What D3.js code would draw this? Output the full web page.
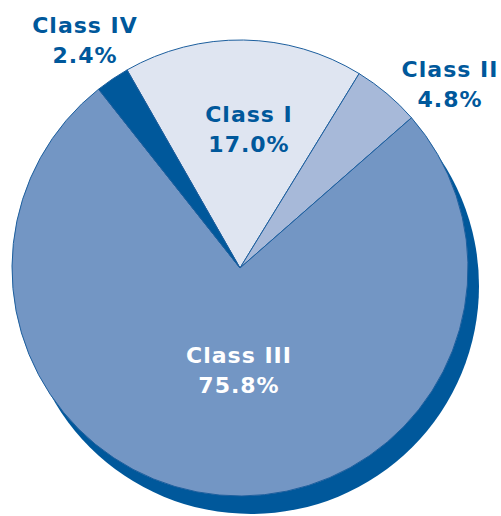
<!DOCTYPE html>
<html>
<head>
<meta charset="utf-8">
<script src="https://cdn.jsdelivr.net/npm/d3@7"></script>
<style>
  body { margin: 0; background: #fff; }
  text { font-family: "Comic Sans MS", "DejaVu Sans", sans-serif; font-weight: bold; }
</style>
</head>
<body>
<script>
const categories = ["Class I", "Class II", "Class III", "Class IV"];
const shares = [17.0, 4.8, 75.8, 2.4];
const colors = ["#dfe5f1", "#a7b9d9", "#7396c4", "#00589b"];
const labelText = ["17.0%", "4.8%", "75.8%", "2.4%"];

const width = 501;
const height = 516;
const cx = 240;
const cy = 268;
const radius = 228;
const dark = "#00589b";

const svg = d3
  .select("body")
  .append("svg")
  .attr("width", width)
  .attr("height", height);

const data = categories.map((c, i) => ({ name: c, value: shares[i], pct: labelText[i], color: colors[i] }));

const start = (-29.7 * Math.PI) / 180;
const pie = d3
  .pie()
  .sort(null)
  .value((d) => d.value)
  .startAngle(start)
  .endAngle(start + 2 * Math.PI);

const arcs = pie(data);
const arc = d3.arc().innerRadius(0).outerRadius(radius);

// shadow disk
svg
  .append("circle")
  .attr("cx", cx + 11)
  .attr("cy", cy + 18)
  .attr("r", radius)
  .attr("fill", dark);

const g = svg.append("g").attr("transform", `translate(${cx},${cy})`);

g.selectAll("path")
  .data(arcs)
  .enter()
  .append("path")
  .attr("d", arc)
  .attr("fill", (d) => d.data.color)
  .attr("stroke", "#1d5f9e")
  .attr("stroke-width", 1);

// labels: Class I and III inside, II and IV outside
const labelPos = {
  "Class I": [249, 122, dark],
  "Class II": [450, 77, dark],
  "Class III": [239, 363, "#ffffff"],
  "Class IV": [85, 33, dark],
};

data.forEach((d) => {
  const [x, y, fill] = labelPos[d.name];
  const t = svg
    .append("text")
    .attr("x", x)
    .attr("y", y)
    .attr("text-anchor", "middle")
    .attr("fill", fill)
    .style("font-size", "22px")
    .style("letter-spacing", "1px");
  t.append("tspan").attr("x", x).text(d.name);
  t.append("tspan").attr("x", x).attr("dy", 30).text(d.pct);
});
</script>
</body>
</html>
